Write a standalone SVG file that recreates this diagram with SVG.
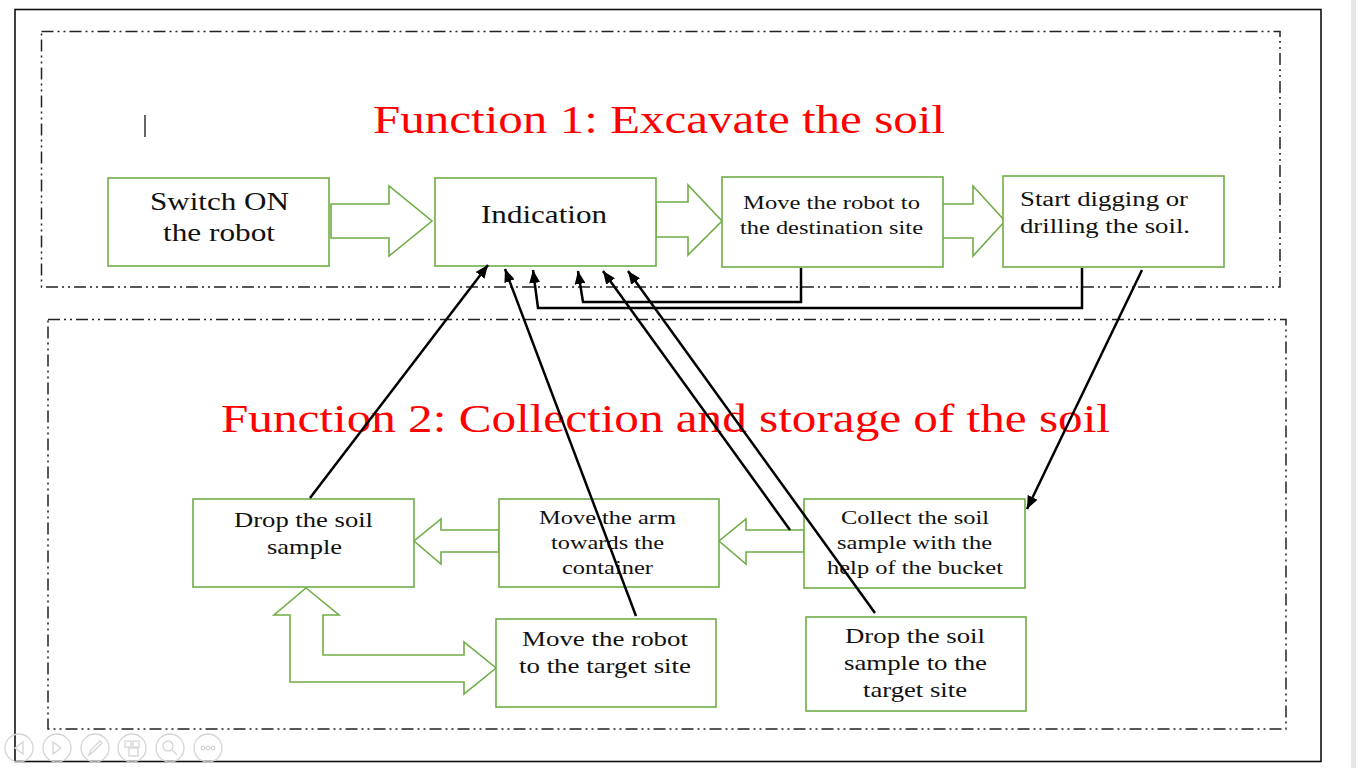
<svg xmlns="http://www.w3.org/2000/svg" width="1366" height="768" viewBox="0 0 1366 768">
<style>
.node rect{fill:#fff;stroke:#70AD47;stroke-width:1.6}
.blk{fill:#fff;stroke:#70AD47;stroke-width:1.6;stroke-linejoin:miter}
.t{font-family:"Liberation Serif","Times New Roman",serif;fill:#111;text-anchor:start}
.title{font-family:"Liberation Serif","Times New Roman",serif;fill:#ff0000;font-size:40px}
.dash{fill:none;stroke:#222;stroke-width:1.5;stroke-dasharray:12 4 2 4 2 4}
.con{fill:none;stroke:#000;stroke-width:2.5;marker-end:url(#ah)}
.nav{fill:none;stroke:#d4d4d4;stroke-width:1.3}
</style>
<defs>
<marker id="ah" markerUnits="userSpaceOnUse" markerWidth="14" markerHeight="11" refX="13" refY="5.5" orient="auto">
<path d="M0,0 L13,5.5 L0,11 z" fill="#000"/>
</marker>
</defs>
<rect width="1366" height="768" fill="#fff"/>
<rect x="1351" y="0" width="5" height="768" fill="#e6e6e6"/>
<rect x="15" y="9.5" width="1306" height="752" fill="none" stroke="#111" stroke-width="1.6"/>
<rect class="dash" x="41.5" y="31.5" width="1238.5" height="255.5"/>
<rect class="dash" x="48" y="319.5" width="1238" height="409.5"/>
<line x1="145" y1="115" x2="145" y2="137" stroke="#333" stroke-width="1.5"/>
<text class="title" x="373" y="133" textLength="572" lengthAdjust="spacingAndGlyphs">Function 1: Excavate the soil</text>
<text class="title" x="221" y="432" textLength="889" lengthAdjust="spacingAndGlyphs">Function 2: Collection and storage of the soil</text>

<g id="arrows-block">
<polygon class="blk" points="331,204 389,204 389,186 432,221 389,256 389,238 331,238"/>
<polygon class="blk" points="656,202 688,202 688,185 722,221 688,255 688,237 656,237"/>
<polygon class="blk" points="941,204 973,204 973,186 1005,221 973,256 973,238 941,238"/>
<polygon class="blk" points="499,530 441,530 441,519 414,541 441,564 441,552 499,552"/>
<polygon class="blk" points="804,530 746,530 746,519 719,541 746,564 746,552 804,552"/>
<polygon class="blk" points="306,588 339,615 323,615 323,655 464,655 464,642 496,668 464,694 464,682 290,682 290,615 274,615"/>
</g>

<g id="n1" class="node"><rect x="108" y="178" width="221" height="88"/>
<text class="t" font-size="26" x="150" y="210" textLength="139" lengthAdjust="spacingAndGlyphs">Switch ON</text>
<text class="t" font-size="26" x="163" y="241" textLength="112" lengthAdjust="spacingAndGlyphs">the robot</text></g>
<g id="n2" class="node"><rect x="435" y="178" width="221" height="88"/>
<text class="t" font-size="26" x="481" y="223" textLength="126" lengthAdjust="spacingAndGlyphs">Indication</text></g>
<g id="n3" class="node"><rect x="722" y="177" width="221" height="90"/>
<text class="t" font-size="19" x="743" y="209" textLength="177" lengthAdjust="spacingAndGlyphs">Move the robot to</text>
<text class="t" font-size="19" x="740" y="234" textLength="183" lengthAdjust="spacingAndGlyphs">the destination site</text></g>
<g id="n4" class="node"><rect x="1003" y="176" width="221" height="91"/>
<text class="t" font-size="20" x="1020" y="206" textLength="168" lengthAdjust="spacingAndGlyphs">Start digging or</text>
<text class="t" font-size="20" x="1020" y="233" textLength="170" lengthAdjust="spacingAndGlyphs">drilling the soil.</text></g>
<g id="n5" class="node"><rect x="193" y="499" width="221" height="88"/>
<text class="t" font-size="21" x="234" y="527" textLength="139" lengthAdjust="spacingAndGlyphs">Drop the soil</text>
<text class="t" font-size="21" x="267" y="554" textLength="75" lengthAdjust="spacingAndGlyphs">sample</text></g>
<g id="n6" class="node"><rect x="499" y="499" width="220" height="88"/>
<text class="t" font-size="19" x="539" y="524" textLength="137" lengthAdjust="spacingAndGlyphs">Move the arm</text>
<text class="t" font-size="19" x="551" y="549" textLength="113" lengthAdjust="spacingAndGlyphs">towards the</text>
<text class="t" font-size="19" x="562" y="574" textLength="91" lengthAdjust="spacingAndGlyphs">container</text></g>
<g id="n7" class="node"><rect x="804" y="499" width="221" height="89"/>
<text class="t" font-size="19" x="841" y="524" textLength="148" lengthAdjust="spacingAndGlyphs">Collect the soil</text>
<text class="t" font-size="19" x="837" y="549" textLength="155" lengthAdjust="spacingAndGlyphs">sample with the</text>
<text class="t" font-size="19" x="827" y="574" textLength="176" lengthAdjust="spacingAndGlyphs">help of the bucket</text></g>
<g id="n8" class="node"><rect x="496" y="619" width="220" height="88"/>
<text class="t" font-size="21" x="522" y="646" textLength="166" lengthAdjust="spacingAndGlyphs">Move the robot</text>
<text class="t" font-size="21" x="519" y="673" textLength="172" lengthAdjust="spacingAndGlyphs">to the target site</text></g>
<g id="n9" class="node"><rect x="806" y="617" width="220" height="94"/>
<text class="t" font-size="21" x="845" y="643" textLength="140" lengthAdjust="spacingAndGlyphs">Drop the soil</text>
<text class="t" font-size="21" x="844" y="670" textLength="143" lengthAdjust="spacingAndGlyphs">sample to the</text>
<text class="t" font-size="21" x="863" y="697" textLength="104" lengthAdjust="spacingAndGlyphs">target site</text></g>

<g id="connectors">
<path class="con" d="M310,498 L488,265"/>
<path class="con" d="M636,616 L505,269"/>
<path class="con" d="M1082,268 L1082,308 L538,308 L533,270"/>
<path class="con" d="M801,268 L801,302 L583,302 L578,271"/>
<path class="con" d="M790,530 L603,271"/>
<path class="con" d="M875,613 L628,271"/>
<path class="con" d="M1142,270 L1027,509"/>
</g>

<g id="nav">
<circle class="nav" cx="19" cy="748" r="14"/><path class="nav" d="M23,742 L15,748 L23,754 z"/>
<circle class="nav" cx="57" cy="748" r="14"/><path class="nav" d="M53,742 L61,748 L53,754 z"/>
<circle class="nav" cx="95" cy="748" r="14"/><path class="nav" d="M89,755 L91,750 L100,741 L102,743 L93,752 z"/>
<circle class="nav" cx="132" cy="748" r="14"/><rect class="nav" x="125" y="741" width="6" height="6"/><rect class="nav" x="133" y="741" width="6" height="6"/><rect class="nav" x="129" y="748" width="9" height="8"/>
<circle class="nav" cx="170" cy="748" r="14"/><circle class="nav" cx="168" cy="746" r="5"/><path class="nav" d="M172,750 L177,755"/>
<circle class="nav" cx="208" cy="748" r="14"/><circle class="nav" cx="203" cy="748" r="1.8"/><circle class="nav" cx="208" cy="748" r="1.8"/><circle class="nav" cx="213" cy="748" r="1.8"/>
</g>
</svg>
